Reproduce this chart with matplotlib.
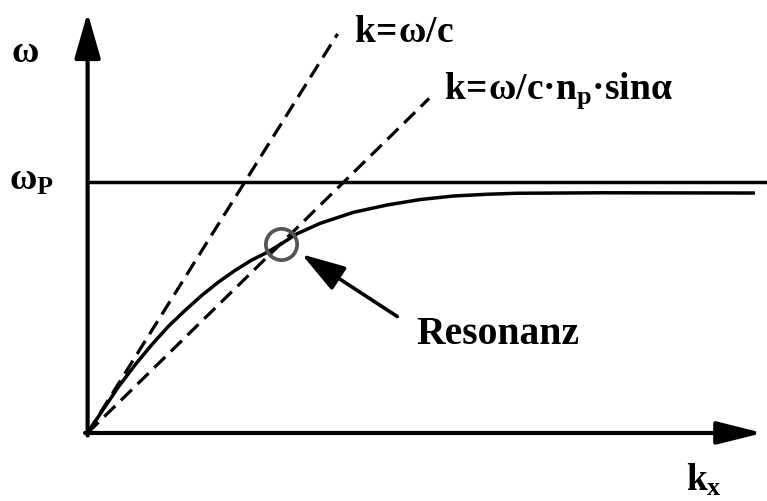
import numpy as np
import matplotlib
matplotlib.use("Agg")
import matplotlib.pyplot as plt

plt.rcParams["mathtext.fontset"] = "custom"
plt.rcParams["mathtext.rm"] = "Liberation Serif:bold"
plt.rcParams["mathtext.it"] = "Liberation Serif:bold"
plt.rcParams["mathtext.bf"] = "Liberation Serif:bold"
plt.rcParams["font.family"] = ["Liberation Serif", "DejaVu Serif"]
plt.rcParams["font.weight"] = "bold"

# surface plasmon dispersion (omega_p = 1)
kx_spp = [0.0, 0.043, 0.123, 0.189, 0.256, 0.322, 0.388, 0.455, 0.521,
          0.588, 0.654, 0.714, 0.771, 0.833, 0.926, 1.059, 1.192, 1.325,
          1.457, 1.590, 1.710, 2.054, 2.652]
w_spp = [0.0, 0.065, 0.184, 0.271, 0.352, 0.425, 0.488, 0.548, 0.601,
         0.648, 0.689, 0.719, 0.753, 0.793, 0.835, 0.879, 0.908, 0.930,
         0.944, 0.951, 0.955, 0.957, 0.956]

# light line and prism light line
kx_light = [0.0, 0.996]
w_light = [0.0, 1.59]
kx_prism = [0.0, 1.361]
w_prism = [0.0, 1.333]

w_p = 1.0
resonance = (0.771, 0.753)

fig = plt.figure(figsize=(7.67, 5.01), dpi=100)
ax = fig.add_axes([0, 0, 1, 1])
ax.set_xlim(-0.349, 2.707)
ax.set_ylim(-0.271, 1.725)
ax.axis("off")

# axes with arrows
ax.annotate("", xy=(0, 1.675), xytext=(0, -0.01),
            arrowprops=dict(arrowstyle="-|>,head_length=1.4,head_width=0.4",
                            lw=3, color="black", mutation_scale=20,
                            shrinkA=0, shrinkB=0))
ax.annotate("", xy=(2.69, 0), xytext=(-0.01, 0),
            arrowprops=dict(arrowstyle="-|>,head_length=1.4,head_width=0.35",
                            lw=3, color="black", mutation_scale=20,
                            shrinkA=0, shrinkB=0))

ax.plot([0, 2.75], [w_p, w_p], color="black", lw=2.5)
ax.plot(kx_spp, w_spp, color="black", lw=2.5, solid_joinstyle="round")
ax.plot(kx_light, w_light, color="black", lw=2.3, dashes=(4.8, 2.5))
ax.plot(kx_prism, w_prism, color="black", lw=2.3, dashes=(4.8, 2.5))

ax.plot([resonance[0]], [resonance[1]], marker="o", ms=22.5, mfc="none",
        mec="#555555", mew=2.7)

ax.annotate("", xy=(0.853, 0.712), xytext=(1.234, 0.464),
            arrowprops=dict(arrowstyle="-|>,head_length=1.35,head_width=0.42",
                            lw=2.6, color="black", mutation_scale=20,
                            shrinkA=0, shrinkB=0))

fs = 27
ax.text(-0.306, 1.476, r"$\omega$", fontsize=fs, va="baseline", ha="left")
ax.text(-0.313, 0.968, r"$\omega_P$", fontsize=fs, va="baseline", ha="left")
ax.text(1.063, 1.556, r"$k\!=\!\omega/c$", fontsize=fs, va="baseline", ha="left")
ax.text(1.421, 1.333, r"$k\!=\!\omega/c$·$n_p$·$sin\alpha$", fontsize=fs,
        va="baseline", ha="left")
ax.text(2.385, -0.23, r"$k_x$", fontsize=fs, va="baseline", ha="left")
ax.text(1.31, 0.353, "Resonanz", fontsize=28.5, fontweight="bold",
        va="baseline", ha="left")

fig.savefig("out.png", dpi=100)
